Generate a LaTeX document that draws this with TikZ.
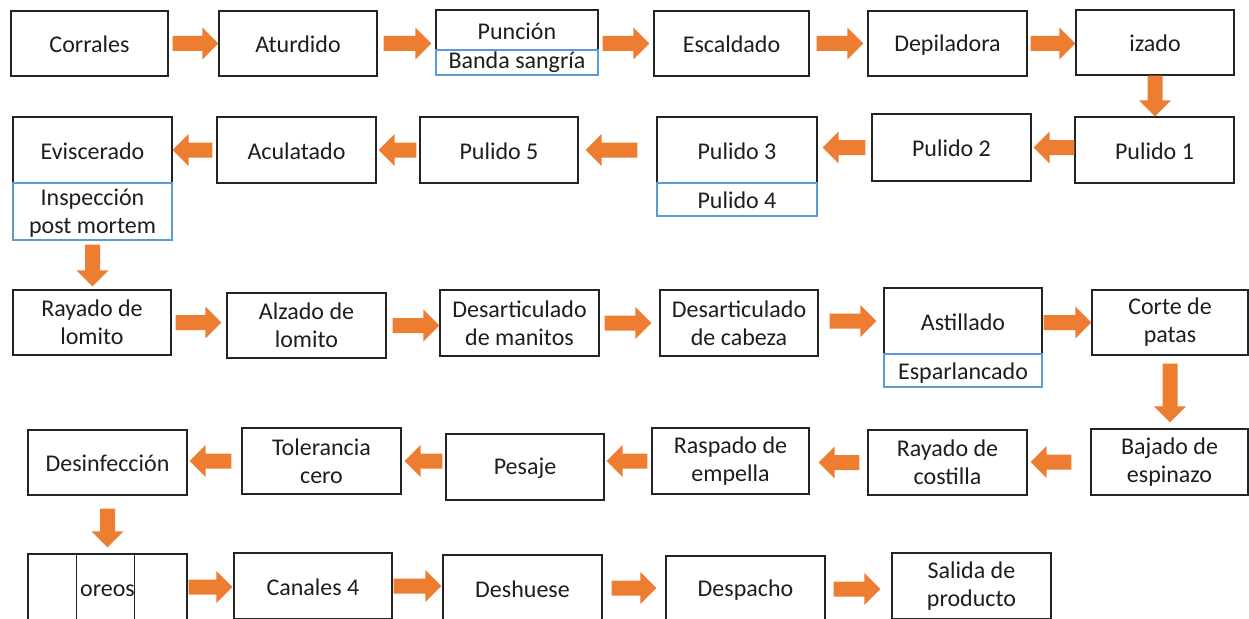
\documentclass[tikz,border=0pt]{standalone}
\usepackage{fontspec}
\setmainfont{Carlito}
\usetikzlibrary{calc}
\definecolor{arrc}{RGB}{237,125,49}
\definecolor{blc}{RGB}{91,155,213}
\definecolor{txtc}{RGB}{30,30,30}
\definecolor{linec}{RGB}{35,35,35}
\newcommand\blockarrow[2]{%
  \coordinate (ba-A) at #1;
  \coordinate (ba-B) at #2;
  \coordinate (ba-H) at ($(ba-B)!16pt!(ba-A)$);
  \fill[arrc] ($(ba-A)!7.5pt!90:(ba-B)$) -- ($(ba-H)!7.5pt!-90:(ba-A)$) -- ($(ba-H)!16pt!-90:(ba-A)$) -- (ba-B)
     -- ($(ba-H)!16pt!90:(ba-A)$) -- ($(ba-H)!7.5pt!90:(ba-A)$) -- ($(ba-A)!7.5pt!-90:(ba-B)$) -- cycle;}
% horizontal: from node anchor #1 shifted #2, to x of #3 shifted #4 (at y of #1)
\newcommand\harr[4]{\blockarrow{($(#1)+(#2,0)$)}{($(#1 -| #3)+(#4,0)$)}}
% vertical: from node anchor #1 shifted #2, to y of #3 shifted #4 (at x of #1)
\newcommand\varr[4]{\blockarrow{($(#1)+(0,#2)$)}{($(#1 |- #3)+(0,#4)$)}}
\begin{document}
\begin{tikzpicture}[x=1pt,y=-1pt,
  box/.style={draw=linec, line width=1.3pt, inner sep=0pt, align=center, text=txtc,
              font=\fontsize{24}{28}\selectfont},
  st/.style={execute at begin node={\rule{0pt}{19pt}}},
  stm/.style={execute at begin node={\rule{0pt}{21.5pt}}},
  bx/.style n args={2}{box, minimum width=#1pt, minimum height=#2pt},
  sub/.style n args={2}{bx={#1}{#2}, draw=blc, line width=1.1pt}]
\useasboundingbox (0,0) rectangle (1249,618);
\clip (0,0) rectangle (1249,618);
\fill[white] (0,0) rectangle (1249,618);
% Row 1
\node[bx={157}{65},st] (corrales) at (89.5,43.5) {Corrales};
\node[bx={158}{65},st] (aturdido) at (298,43.5) {Aturdido};
\node[bx={162}{40},st] (puncion) at (517,30) {Punción};
\node[bx={155}{65},st] (escaldado) at (731.5,43.5) {Escaldado};
\node[bx={159}{65},st] (depiladora) at (947.5,43.5) {Depiladora};
\node[bx={158}{65},st] (izado) at (1155,42.5) {izado};
% Row 2
\node[bx={159}{66},st] (pulido1) at (1154.5,150) {Pulido 1};
\node[bx={159}{67},st] (pulido2) at (951.5,147.5) {Pulido 2};
\node[bx={160}{66},st] (pulido3) at (737,150) {Pulido 3};
\node[bx={158}{66},st] (pulido5) at (499,150) {Pulido 5};
\node[bx={159}{66},st] (aculatado) at (296.5,150) {Aculatado};
\node[bx={159}{66},st] (eviscerado) at (92.5,150) {Eviscerado};
% Row 3
\node[bx={158}{65},stm] (rayadol) at (92,322.5) {Rayado de\\lomito};
\node[bx={159}{65},stm] (alzado) at (306.5,325.5) {Alzado de\\lomito};
\node[bx={159}{66},stm] (manitos) at (519.5,323) {Desarticulado\\de manitos};
\node[bx={158}{66},stm] (cabeza) at (739,323) {Desarticulado\\de cabeza};
\node[bx={158}{66},st] (astillado) at (963,321) {Astillado};
\node[bx={156}{65},stm] (corte) at (1170,322.5) {Corte de\\patas};
% Row 4
\node[bx={157}{66},stm] (bajado) at (1169.5,462) {Bajado de\\espinazo};
\node[bx={159}{65},stm] (costilla) at (947.5,462.5) {Rayado de\\costilla};
\node[bx={157}{66},stm] (raspado) at (730.5,461) {Raspado de\\empella};
\node[bx={158}{66},st] (pesaje) at (525,467) {Pesaje};
\node[bx={159}{66},stm] (tolerancia) at (321.5,461) {Tolerancia\\cero};
\node[bx={159}{65},st] (desinfeccion) at (107.5,462.5) {Desinfección};
% Row 5
\node[bx={159}{66},st] (oreos) at (107.5,587) {oreos};
\draw[draw=linec, line width=1.3pt] ($(oreos.north west)+(49,0)$) -- ($(oreos.south west)+(49,0)$);
\draw[draw=linec, line width=1.3pt] ($(oreos.north west)+(107,0)$) -- ($(oreos.south west)+(107,0)$);
\node[bx={158}{66},st] (canales) at (313,586) {Canales 4};
\node[bx={159}{66},st] (deshuese) at (522.5,588) {Deshuese};
\node[bx={159}{66},st] (despacho) at (745.5,589) {Despacho};
\node[bx={159}{66},stm] (salida) at (971.5,586) {Salida de\\producto};
% blue sub boxes
\node[sub={162}{25}] (banda) at (517,62.5) {\raisebox{-2.5pt}{Banda sangría}};
\node[sub={160}{33},st] (pulido4) at (737,199.5) {Pulido 4};
\node[sub={159}{57},text depth=0pt] (inspeccion) at (92.5,211.5) {Inspección\\post mortem};
\node[sub={158}{33},stm] (esparlancado) at (963,370.5) {Esparlancado};
% Arrows row 1
\harr{corrales.east}{4}{aturdido.west}{0}
\harr{aturdido.east}{6}{puncion.west}{-4}
\harr{escaldado.west -| puncion.east}{4}{escaldado.west}{-4}
\harr{escaldado.east}{7}{depiladora.west}{-4}
\harr{depiladora.east}{3}{izado.west}{0}
\varr{izado.south}{0}{pulido1.north}{0}
% Arrows row 2
\harr{pulido2.east -| pulido1.west}{0}{pulido2.east}{2}
\harr{pulido2.west}{-6}{pulido3.east}{5}
\harr{pulido3.west}{-19}{pulido5.east}{7}
\harr{pulido5.west}{-3}{aculatado.east}{2}
\harr{aculatado.west}{-4}{eviscerado.east}{0}
\varr{inspeccion.south}{4}{rayadol.north}{-3}
% Arrows row 3
\harr{rayadol.east}{4}{alzado.west}{-5}
\harr{alzado.east}{6}{manitos.west}{0}
\harr{manitos.east}{5}{cabeza.west}{-8}
\harr{astillado.west -| cabeza.east}{11}{astillado.west}{-7}
\harr{corte.west -| astillado.east}{1}{corte.west}{0}
\varr{corte.south}{8}{bajado.north}{-6}
% Arrows row 4
\harr{bajado.west}{-19}{costilla.east}{3}
\harr{costilla.west}{-8}{raspado.east}{9}
\harr{raspado.west}{-4}{pesaje.east}{2}
\harr{tolerancia.east -| pesaje.west}{-3}{tolerancia.east}{3}
\harr{tolerancia.west}{-10}{desinfeccion.east}{2}
\varr{desinfeccion.south}{13}{oreos.north}{-6}
% Arrows row 5
\harr{oreos.east}{1}{canales.west}{-1}
\harr{canales.east}{1}{deshuese.west}{-1}
\harr{deshuese.east}{9}{despacho.west}{-9}
\harr{despacho.east}{8}{salida.west}{-11}
\end{tikzpicture}
\end{document}
